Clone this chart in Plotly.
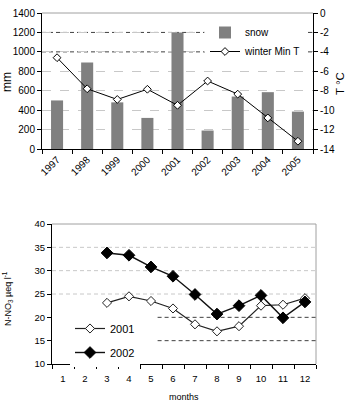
import plotly.graph_objects as go

# ---- data ----
years = ['1997', '1998', '1999', '2000', '2001', '2002', '2003', '2004', '2005']
snow_mm = [500, 890, 480, 320, 1200, 190, 540, 585, 385]
winter_min_t = [-4.6, -7.8, -8.9, -7.85, -9.5, -7.0, -8.35, -10.8, -13.2]
t_tickvals = [0, -2, -4, -6, -8, -10, -12, -14]
t_ticklabels = ['0', '-2', '-4', '-6', '-8', '-10', '-12', '-14']
ref_levels_mm = [1000, 1200]

months = ['1', '2', '3', '4', '5', '6', '7', '8', '9', '10', '11', '12']
no3_2001 = [None, None, 23.1, 24.5, 23.5, 21.9, 18.5, 17.0, 18.1, 22.5, 22.7, 24.1]
no3_2002 = [None, None, 33.8, 33.3, 30.8, 28.8, 24.9, 20.7, 22.5, 24.7, 19.9, 23.3]
light_grid_no3 = [25, 30, 35]
ref_levels_no3 = [15, 20]

FONT = "Liberation Sans, Arial, sans-serif"

fig = go.Figure()

fig.add_trace(go.Bar(
    x=years, y=snow_mm, name='snow', xaxis='x', yaxis='y',
    marker=dict(color='#808080', line=dict(width=0)), legend='legend'))
fig.add_trace(go.Scatter(
    x=years, y=winter_min_t, name='winter Min T', xaxis='x', yaxis='y2',
    mode='lines+markers', line=dict(color='black', width=1),
    marker=dict(symbol='diamond', size=6, color='white', line=dict(color='black', width=1)),
    legend='legend'))

fig.add_trace(go.Scatter(
    x=months, y=no3_2001, name='2001', xaxis='x2', yaxis='y3',
    mode='lines+markers', line=dict(color='#222222', width=1.2),
    marker=dict(symbol='diamond', size=7, color='white', line=dict(color='#222222', width=1)),
    legend='legend2', legendgroup='a'))
fig.add_trace(go.Scatter(
    x=months, y=no3_2002, name='2002', xaxis='x2', yaxis='y3',
    mode='lines+markers', line=dict(color='#111111', width=1.4),
    marker=dict(symbol='diamond', size=9, color='black', line=dict(color='black', width=1)),
    legend='legend2', legendgroup='b'))

shapes = []
shapes.append(dict(type='line', xref='x domain', yref='y domain', x0=0, x1=1, y0=1, y1=1,
                   line=dict(color='#a0a0a0', width=1), layer='below'))
for v in ref_levels_mm:
    shapes.append(dict(type='line', xref='x domain', yref='y', x0=0, x1=1, y0=v, y1=v,
                       line=dict(color='#404040', width=1, dash='4px,3px'), layer='below'))
for v in light_grid_no3:
    shapes.append(dict(type='line', xref='x2 domain', yref='y3', x0=0, x1=1, y0=v, y1=v,
                       line=dict(color='#c8c8c8', width=1, dash='4px,3px'), layer='below'))
for v in ref_levels_no3:
    shapes.append(dict(type='line', xref='x2', yref='y3', x0=4.3, x1=11.5, y0=v, y1=v,
                       line=dict(color='#404040', width=1, dash='4px,3px'), layer='below'))
shapes.append(dict(type='line', xref='x2 domain', yref='y3 domain', x0=0, x1=1, y0=1, y1=1,
                   line=dict(color='#a0a0a0', width=1), layer='below'))
shapes.append(dict(type='line', xref='x2 domain', yref='y3 domain', x0=1, x1=1, y0=0, y1=1,
                   line=dict(color='#a0a0a0', width=1), layer='below'))

annotations = [
    dict(text='mm', x=7/347, y=1 - 82/404, xref='paper', yref='paper', showarrow=False,
         xanchor='center', yanchor='middle', textangle=-90, font=dict(size=12, color='black')),
    dict(text='T °C', x=340/347, y=1 - 84/404, xref='paper', yref='paper', showarrow=False,
         xanchor='center', yanchor='middle', textangle=-90, font=dict(size=11.5, color='black')),
    dict(text='N-NO<sub>3</sub> µeq l<sup>-1</sup>', x=7/347, y=1 - 299/404, xref='paper',
         yref='paper', showarrow=False, xanchor='center', yanchor='middle', textangle=-90,
         font=dict(size=9, color='black')),
    dict(text='months', x=184/347, y=1 - 397/404, xref='paper', yref='paper', showarrow=False,
         xanchor='center', yanchor='middle', font=dict(size=9, color='black')),
]

fig.update_layout(
    width=347, height=404,
    margin=dict(l=0, r=0, t=0, b=0, autoexpand=False),
    paper_bgcolor='white', plot_bgcolor='white',
    font=dict(family=FONT, color='black', size=10),
    bargap=0.6,
    shapes=shapes, annotations=annotations,
    xaxis=dict(domain=[42/347, 313/347], anchor='y', type='category', range=[-0.5, 8.5],
               tickson='boundaries', ticks='outside', ticklen=4, tickcolor='black',
               tickangle=-45, showline=True, linecolor='black', linewidth=1,
               tickfont=dict(size=10), showgrid=False, automargin=False),
    yaxis=dict(domain=[1 - 149/404, 1 - 13/404], anchor='x', range=[0, 1400], dtick=200,
               ticks='outside', ticklen=4, tickcolor='black', showline=True, linecolor='black',
               gridcolor='#c8c8c8', griddash='dash', zeroline=False, tickfont=dict(size=10),
               automargin=False),
    yaxis2=dict(overlaying='y', side='right', anchor='x', range=[-14, 0],
                tickvals=t_tickvals, ticktext=t_ticklabels, ticks='outside', ticklen=4,
                tickcolor='black', showline=True, linecolor='black', showgrid=False,
                zeroline=False, tickfont=dict(size=10), automargin=False),
    xaxis2=dict(domain=[52/347, 316/347], anchor='y3', type='category', range=[-0.5, 11.5],
                tickson='boundaries', ticks='outside', ticklen=4, tickcolor='black',
                showline=True, linecolor='black', showgrid=False, tickfont=dict(size=9.5),
                ticklabelstandoff=6, automargin=False),
    yaxis3=dict(domain=[1 - 364/404, 1 - 224/404], anchor='x2', range=[10, 40], dtick=5,
                ticks='outside', ticklen=4, tickcolor='black', showline=True, linecolor='black',
                showgrid=False, zeroline=False, tickfont=dict(size=9.5), automargin=False),
    legend=dict(x=205/347, y=1 - 18/404, xanchor='left', yanchor='top', bgcolor='white',
                font=dict(size=10), borderwidth=0, tracegroupgap=0),
    legend2=dict(x=70/347, y=1 - 314/404, xanchor='left', yanchor='top', bgcolor='white',
                 font=dict(size=11), borderwidth=0, traceorder='grouped', tracegroupgap=5),
)

fig.write_html("out.html")
